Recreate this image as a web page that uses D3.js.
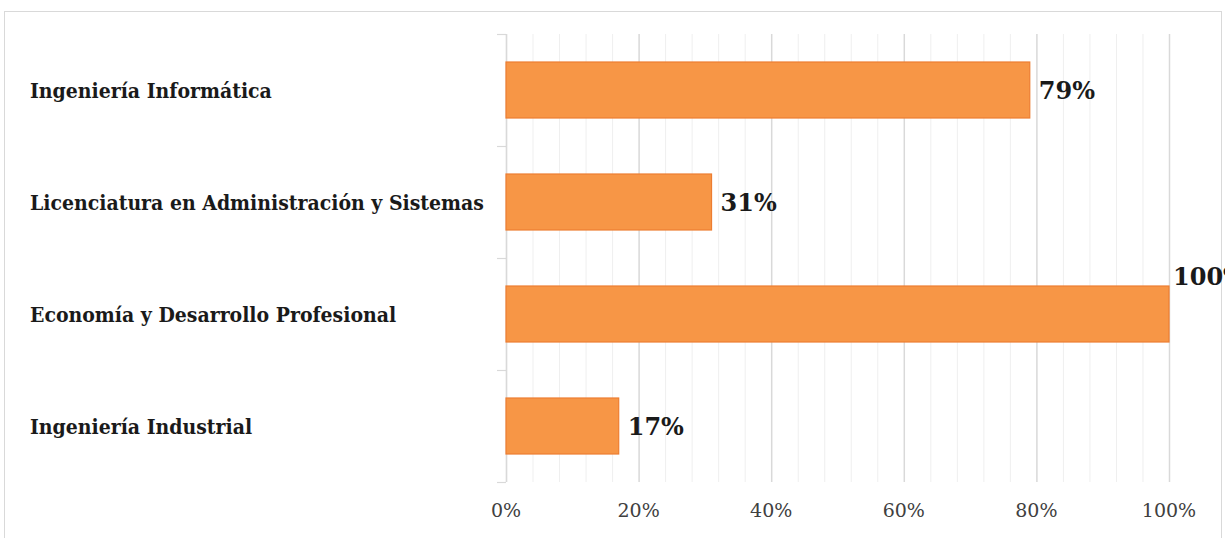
<!DOCTYPE html>
<html><head><meta charset="utf-8">
<script src="https://cdn.jsdelivr.net/npm/d3@7"></script>
<style>body{margin:0;background:#fff;} svg{display:block;}</style>
</head><body>
<script>
const categories = ["Ingeniería Informática","Licenciatura en Administración y Sistemas","Economía y Desarrollo Profesional","Ingeniería Industrial"];
const values = [0.79, 0.31, 1.00, 0.17];
const valueLabels = ["79%","31%","100%","17%"];
const tickValues = [0, 0.2, 0.4, 0.6, 0.8, 1.0];
const tickLabels = ["0%","20%","40%","60%","80%","100%"];

const W = 1225, H = 538;
const svg = d3.select("body").append("svg").attr("width", W).attr("height", H);

svg.append("rect").attr("x",4.5).attr("y",11.5).attr("width",1217).attr("height",540)
  .attr("fill","#fff").attr("stroke","#d9d9d9").attr("stroke-width",1);

const x = d3.scaleLinear().domain([0,1]).range([506,1169]);
const y = d3.scaleBand().domain(categories).range([34,482]).paddingInner(0.5).paddingOuter(0.25);

// gridlines (minor every 4%, major every 20%)
const minor = d3.range(0, 1.0001, 0.04);
const isMajor = d => Math.abs(d*5 - Math.round(d*5)) < 1e-6;
svg.append("g").selectAll("line").data(minor).join("line")
  .attr("x1", d=>x(d)+0.5).attr("x2", d=>x(d)+0.5).attr("y1",34).attr("y2",482)
  .attr("stroke", d => isMajor(d) ? "#d9d9d9" : "#efefef")
  .attr("stroke-width", d => isMajor(d) ? 1.5 : 1);

// category axis ticks
const bandEdges = d3.range(categories.length+1).map(i => 34 + i*(448/categories.length));
svg.append("g").selectAll("line").data(bandEdges).join("line")
  .attr("x1",497).attr("x2",506).attr("y1",d=>d+0.5).attr("y2",d=>d+0.5)
  .attr("stroke","#d9d9d9").attr("stroke-width",1.2);
svg.append("line").attr("x1",506.5).attr("x2",506.5).attr("y1",34).attr("y2",482)
  .attr("stroke","#d9d9d9").attr("stroke-width",1.2);

// bars
svg.append("g").selectAll("rect").data(categories).join("rect")
  .attr("x", x(0)).attr("y", d=>y(d))
  .attr("width", (d,i)=>x(values[i])-x(0)).attr("height", y.bandwidth())
  .attr("fill","#f79646").attr("stroke","#ed7d31").attr("stroke-width",1.2);

// category labels
svg.append("g").selectAll("text").data(categories).join("text")
  .attr("x",30).attr("y", d=>y(d)+y.bandwidth()/2).attr("dy","0.36em")
  .attr("font-family","'DejaVu Serif Condensed', 'DejaVu Serif', serif").attr("font-stretch","condensed")
  .attr("font-weight","bold")
  .attr("font-size",21).attr("fill","#1a1a1a").text(d=>d);

// value labels
svg.append("g").selectAll("text").data(categories).join("text")
  .attr("x",(d,i)=>x(values[i])+ (values[i]>=1 ? 4 : 9))
  .attr("y",(d,i)=>y(d)+y.bandwidth()/2 - (values[i]>=1 ? 38 : 0)).attr("dy","0.36em")
  .attr("font-family","'DejaVu Serif', serif").attr("font-weight","bold")
  .attr("font-size",24).attr("fill","#1a1a1a").text((d,i)=>valueLabels[i]);

// x tick labels
svg.append("g").selectAll("text").data(tickValues).join("text")
  .attr("x",d=>x(d)).attr("y",510).attr("dy","0.36em").attr("text-anchor","middle")
  .attr("font-family","'DejaVu Serif', serif").attr("font-size",19).attr("fill","#404040")
  .text((d,i)=>tickLabels[i]);
</script>
</body></html>
